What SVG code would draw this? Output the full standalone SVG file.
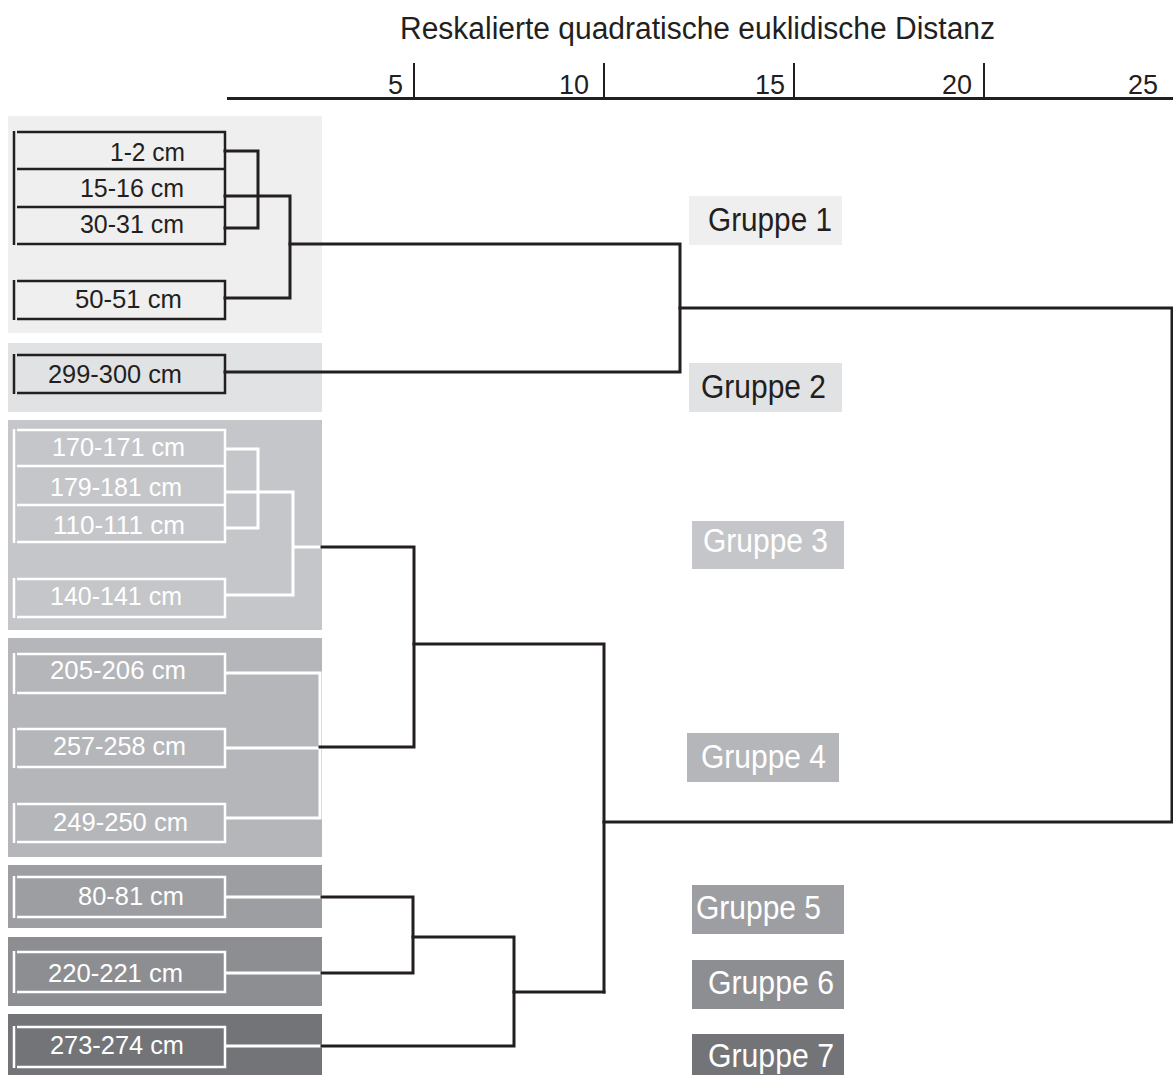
<svg xmlns="http://www.w3.org/2000/svg" width="1173" height="1075" viewBox="0 0 1173 1075">
<style>
text{font-family:"Liberation Sans",Arial,sans-serif}
.t{font-size:31px;fill:#231f20}
.tick{font-size:27px;fill:#231f20;text-anchor:end}
.lb{font-size:26px}
.gl{font-size:34px}
.dk{fill:#231f20}
.wh{fill:#ffffff}
.bd{fill:none;stroke:#231f20;stroke-width:2.5}
.bw{fill:none;stroke:#ffffff;stroke-width:2.5}
.cd{fill:none;stroke:#231f20;stroke-width:3;stroke-linecap:square}
.cw{fill:none;stroke:#ffffff;stroke-width:3}
</style>
<rect width="1173" height="1075" fill="#ffffff"/>
<g id="axis">
<text class="t" x="400" y="39" textLength="595" lengthAdjust="spacingAndGlyphs">Reskalierte quadratische euklidische Distanz</text>
<line x1="227" y1="98.5" x2="1173" y2="98.5" stroke="#231f20" stroke-width="3"/>
<g stroke="#231f20" stroke-width="2">
<line x1="414" y1="63" x2="414" y2="98"/>
<line x1="604" y1="63" x2="604" y2="98"/>
<line x1="794" y1="63" x2="794" y2="98"/>
<line x1="984" y1="63" x2="984" y2="98"/>
</g>
<text class="tick" x="403" y="94">5</text>
<text class="tick" x="589" y="94">10</text>
<text class="tick" x="785" y="94">15</text>
<text class="tick" x="972" y="94">20</text>
<text class="tick" x="1158" y="94">25</text>
</g>
<g id="panels">
<rect x="8" y="116" width="314" height="217" fill="#efefef"/>
<rect x="8" y="343" width="314" height="69" fill="#e1e2e4"/>
<rect x="8" y="420" width="314" height="210" fill="#c5c6c9"/>
<rect x="8" y="638" width="314" height="219" fill="#b5b6b9"/>
<rect x="8" y="865" width="314" height="63" fill="#9d9ea2"/>
<rect x="8" y="937" width="314" height="69" fill="#8d8e92"/>
<rect x="8" y="1014" width="314" height="61" fill="#737478"/>
</g>
<g id="group1-items">
<path class="bd" d="M17,132H225V244H17M17,169H225M17,207H225"/>
<line class="bd" x1="14" y1="131" x2="14" y2="245"/>
<text class="lb dk" x="110" y="161" textLength="75" lengthAdjust="spacingAndGlyphs">1-2 cm</text>
<text class="lb dk" x="80" y="197" textLength="104" lengthAdjust="spacingAndGlyphs">15-16 cm</text>
<text class="lb dk" x="80" y="233" textLength="104" lengthAdjust="spacingAndGlyphs">30-31 cm</text>
</g>
<g id="item-50-51">
<path class="bd" d="M17,281H225V319H17"/>
<line class="bd" x1="14" y1="280" x2="14" y2="320"/>
<text class="lb dk" x="75" y="308" textLength="107" lengthAdjust="spacingAndGlyphs">50-51 cm</text>
</g>
<g id="item-299-300">
<path class="bd" d="M17,355H225V393H17"/>
<line class="bd" x1="14" y1="354" x2="14" y2="394"/>
<text class="lb dk" x="48" y="383" textLength="134" lengthAdjust="spacingAndGlyphs">299-300 cm</text>
</g>
<g id="group3-items">
<path class="bw" d="M17,430H225V542H17M17,466H225M17,505H225"/>
<line class="bw" x1="14" y1="429" x2="14" y2="543"/>
<text class="lb wh" x="52" y="456" textLength="133" lengthAdjust="spacingAndGlyphs">170-171 cm</text>
<text class="lb wh" x="50" y="496" textLength="132" lengthAdjust="spacingAndGlyphs">179-181 cm</text>
<text class="lb wh" x="53" y="534" textLength="132" lengthAdjust="spacingAndGlyphs">110-111 cm</text>
</g>
<g id="item-140-141">
<path class="bw" d="M17,579H225V617H17"/>
<line class="bw" x1="14" y1="578" x2="14" y2="618"/>
<text class="lb wh" x="50" y="605" textLength="132" lengthAdjust="spacingAndGlyphs">140-141 cm</text>
</g>
<g id="item-205-206">
<path class="bw" d="M17,654H225V693H17"/>
<line class="bw" x1="14" y1="653" x2="14" y2="694"/>
<text class="lb wh" x="50" y="679" textLength="136" lengthAdjust="spacingAndGlyphs">205-206 cm</text>
</g>
<g id="item-257-258">
<path class="bw" d="M17,729H225V767H17"/>
<line class="bw" x1="14" y1="728" x2="14" y2="768"/>
<text class="lb wh" x="53" y="755" textLength="133" lengthAdjust="spacingAndGlyphs">257-258 cm</text>
</g>
<g id="item-249-250">
<path class="bw" d="M17,804H225V842H17"/>
<line class="bw" x1="14" y1="803" x2="14" y2="843"/>
<text class="lb wh" x="53" y="831" textLength="135" lengthAdjust="spacingAndGlyphs">249-250 cm</text>
</g>
<g id="item-80-81">
<path class="bw" d="M17,877H225V917H17"/>
<line class="bw" x1="14" y1="876" x2="14" y2="918"/>
<text class="lb wh" x="78" y="905" textLength="106" lengthAdjust="spacingAndGlyphs">80-81 cm</text>
</g>
<g id="item-220-221">
<path class="bw" d="M17,952H225V992H17"/>
<line class="bw" x1="14" y1="951" x2="14" y2="993"/>
<text class="lb wh" x="48" y="982" textLength="135" lengthAdjust="spacingAndGlyphs">220-221 cm</text>
</g>
<g id="item-273-274">
<path class="bw" d="M17,1027H225V1067H17"/>
<line class="bw" x1="14" y1="1026" x2="14" y2="1068"/>
<text class="lb wh" x="50" y="1054" textLength="134" lengthAdjust="spacingAndGlyphs">273-274 cm</text>
</g>
<g id="connectors">
<path class="cd" d="M225,151H258V228H225"/>
<path class="cd" d="M225,196H290V298H225"/>
<path class="cd" d="M290,244H680V372H225"/>
<path class="cd" d="M680,308H1172V822H604"/>
<path class="cw" d="M225,449H258V528H225"/>
<path class="cw" d="M225,492H293V595H225"/>
<path class="cw" d="M293,547H322"/>
<path class="cw" d="M225,673H320V818H225M225,748H320"/>
<path class="cd" d="M322,547H414V747H320"/>
<path class="cd" d="M414,644H604V992"/>
<path class="cw" d="M225,897H322M225,973H322M225,1046H322"/>
<path class="cd" d="M322,897H413V973H322"/>
<path class="cd" d="M413,937H514V1046H322"/>
<path class="cd" d="M514,992H604"/>
</g>
<g id="label-gruppe-1">
<rect x="689" y="196" width="153" height="49" fill="#efefef"/>
<text class="gl dk" x="708" y="231" textLength="124" lengthAdjust="spacingAndGlyphs">Gruppe 1</text>
</g>
<g id="label-gruppe-2">
<rect x="689" y="363" width="153" height="49" fill="#e1e2e4"/>
<text class="gl dk" x="701" y="398" textLength="125" lengthAdjust="spacingAndGlyphs">Gruppe 2</text>
</g>
<g id="label-gruppe-3">
<rect x="692" y="521" width="152" height="48" fill="#c5c6c9"/>
<text class="gl wh" x="703" y="552" textLength="125" lengthAdjust="spacingAndGlyphs">Gruppe 3</text>
</g>
<g id="label-gruppe-4">
<rect x="687" y="733" width="152" height="49" fill="#b5b6b9"/>
<text class="gl wh" x="701" y="768" textLength="125" lengthAdjust="spacingAndGlyphs">Gruppe 4</text>
</g>
<g id="label-gruppe-5">
<rect x="692" y="885" width="152" height="49" fill="#9d9ea2"/>
<text class="gl wh" x="696" y="919" textLength="125" lengthAdjust="spacingAndGlyphs">Gruppe 5</text>
</g>
<g id="label-gruppe-6">
<rect x="692" y="960" width="152" height="49" fill="#8d8e92"/>
<text class="gl wh" x="708" y="994" textLength="126" lengthAdjust="spacingAndGlyphs">Gruppe 6</text>
</g>
<g id="label-gruppe-7">
<rect x="692" y="1034" width="152" height="41" fill="#737478"/>
<text class="gl wh" x="708" y="1067" textLength="126" lengthAdjust="spacingAndGlyphs">Gruppe 7</text>
</g>
</svg>
